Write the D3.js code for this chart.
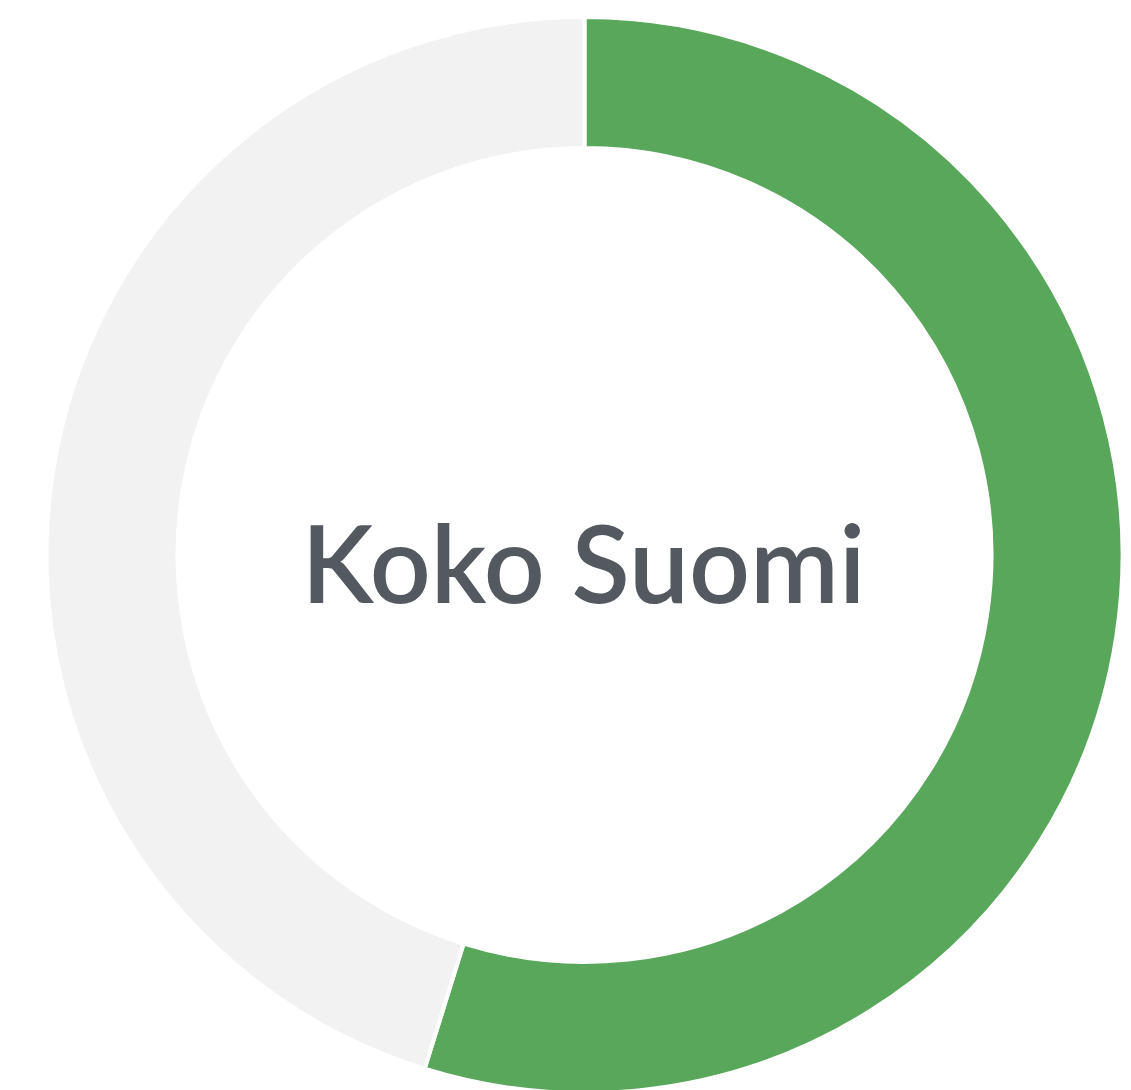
<!DOCTYPE html>
<html><head><meta charset="utf-8">
<script src="https://cdn.jsdelivr.net/npm/d3@7"></script>
<style>html,body{margin:0;padding:0;background:#fff;overflow:hidden}</style>
</head><body>
<svg id="chart" width="1131" height="1090"></svg>
<script>
const categories = ["Kyllä", "Muut"];
const values = [54.8, 45.2];
const colors = ["#58a75b", "#f2f2f2"];
const title = "Koko Suomi";

const svg = d3.select("#chart");
const cx = 584.5, cy = 555, outerR = 538, innerR = 407;
const g = svg.append("g").attr("transform", `translate(${cx},${cy})`);
const pie = d3.pie().sort(null).value(d => d)(values);
const arc = d3.arc().innerRadius(innerR).outerRadius(outerR);
g.selectAll("path").data(pie).join("path")
  .attr("d", arc)
  .attr("fill", (d, i) => colors[i])
  .attr("stroke", "#fff")
  .attr("stroke-width", 4);
g.append("text")
  .attr("x", -1).attr("y", 48)
  .attr("text-anchor", "middle")
  .attr("font-family", "Lato")
  .attr("font-weight", 600)
  .attr("font-size", 107)
  .attr("fill", "#545960")
  .text(title);
</script>
</body></html>
